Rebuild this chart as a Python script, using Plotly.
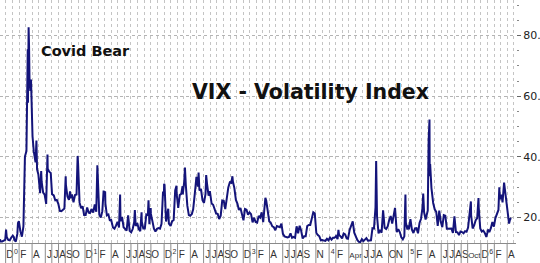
import plotly.graph_objects as go
import pandas as pd

# ---------------- data ----------------
d2019 = ["2019-11-05", "2019-11-08", "2019-11-15", "2019-11-22", "2019-11-29", "2019-12-03", "2019-12-06",
         "2019-12-13", "2019-12-20", "2019-12-27", "2019-12-31"]
v2019 = [12.8, 12.1, 12.1, 12.3, 12.6, 16.0, 13.6, 12.6, 12.5, 13.4, 13.8]

d2020 = ["2020-01-03", "2020-01-08", "2020-01-10", "2020-01-17", "2020-01-24", "2020-01-27", "2020-01-31",
         "2020-02-07", "2020-02-14", "2020-02-21", "2020-02-24", "2020-02-27", "2020-02-28", "2020-03-06",
         "2020-03-09", "2020-03-12", "2020-03-13", "2020-03-16", "2020-03-18", "2020-03-20", "2020-03-24",
         "2020-03-27", "2020-03-31", "2020-04-03", "2020-04-09", "2020-04-17", "2020-04-21", "2020-04-24",
         "2020-04-30", "2020-05-08", "2020-05-13", "2020-05-15", "2020-05-22", "2020-05-29", "2020-06-05",
         "2020-06-11", "2020-06-12", "2020-06-19", "2020-06-26", "2020-07-02", "2020-07-10", "2020-07-17",
         "2020-07-24", "2020-07-31", "2020-08-07", "2020-08-14", "2020-08-21", "2020-08-28", "2020-09-03",
         "2020-09-04", "2020-09-11", "2020-09-18", "2020-09-23", "2020-09-25", "2020-10-02", "2020-10-09",
         "2020-10-16", "2020-10-23", "2020-10-28", "2020-10-30", "2020-11-06", "2020-11-13", "2020-11-20",
         "2020-11-27", "2020-12-04", "2020-12-11", "2020-12-18", "2020-12-24", "2020-12-31"]
v2020 = [14.0, 13.5, 12.6, 12.1, 14.6, 18.2, 18.8, 15.5, 13.7, 17.1, 25.0, 39.2, 40.1, 41.9,
         54.5, 75.5, 57.8, 82.7, 76.5, 66.0, 61.7, 65.5, 53.5, 46.8, 41.7, 38.2, 45.4, 35.9,
         34.2, 28.0, 35.3, 31.9, 28.2, 27.5, 24.5, 40.8, 36.1, 35.1, 34.7, 27.7, 27.3, 25.7,
         25.8, 24.5, 22.2, 22.1, 22.5, 23.0, 33.6, 30.8, 26.9, 25.8, 28.6, 26.4, 27.6, 25.0,
         27.4, 27.6, 40.3, 38.0, 24.9, 23.1, 23.7, 20.8, 20.8, 23.3, 21.6, 21.5, 22.8]

d2021 = ["2021-01-08", "2021-01-15", "2021-01-22", "2021-01-27", "2021-01-29", "2021-02-05", "2021-02-12",
         "2021-02-19", "2021-02-25", "2021-02-26", "2021-03-04", "2021-03-05", "2021-03-12", "2021-03-19",
         "2021-03-26", "2021-03-31", "2021-04-09", "2021-04-16", "2021-04-23", "2021-04-30", "2021-05-07",
         "2021-05-12", "2021-05-14", "2021-05-21", "2021-05-28", "2021-06-04", "2021-06-11", "2021-06-18",
         "2021-06-25", "2021-07-02", "2021-07-09", "2021-07-16", "2021-07-19", "2021-07-23", "2021-07-30",
         "2021-08-06", "2021-08-13", "2021-08-19", "2021-08-20", "2021-08-27", "2021-09-03", "2021-09-10",
         "2021-09-17", "2021-09-20", "2021-09-24", "2021-09-30", "2021-10-01", "2021-10-08", "2021-10-15",
         "2021-10-22", "2021-10-29", "2021-11-05", "2021-11-12", "2021-11-19", "2021-11-26", "2021-11-30",
         "2021-12-01", "2021-12-03", "2021-12-10", "2021-12-17", "2021-12-20", "2021-12-23", "2021-12-31"]
v2021 = [21.6, 24.3, 21.9, 37.2, 33.1, 20.9, 20.0, 22.1, 28.9, 28.0, 28.6, 24.7, 20.7, 21.0,
         18.9, 19.4, 16.7, 16.3, 17.3, 18.6, 16.7, 27.6, 18.8, 20.2, 16.8, 16.4, 15.7, 20.7,
         15.6, 15.1, 16.2, 18.5, 22.5, 17.2, 18.2, 16.2, 15.5, 21.7, 18.6, 16.4, 16.4, 21.0,
         20.8, 25.7, 17.8, 23.1, 21.2, 18.8, 16.3, 15.4, 16.3, 16.5, 16.3, 17.9, 28.6, 27.2,
         31.1, 30.7, 18.7, 21.6, 22.9, 18.0, 17.2]

d2022 = ["2022-01-07", "2022-01-14", "2022-01-21", "2022-01-24", "2022-01-27", "2022-01-28", "2022-02-04",
         "2022-02-11", "2022-02-18", "2022-02-24", "2022-02-25", "2022-03-04", "2022-03-07", "2022-03-11",
         "2022-03-18", "2022-03-25", "2022-03-31", "2022-04-08", "2022-04-14", "2022-04-22", "2022-04-29",
         "2022-05-06", "2022-05-09", "2022-05-13", "2022-05-20", "2022-05-27", "2022-06-03", "2022-06-10",
         "2022-06-13", "2022-06-17", "2022-06-24", "2022-06-30", "2022-07-08", "2022-07-15", "2022-07-22",
         "2022-07-29", "2022-08-05", "2022-08-12", "2022-08-19", "2022-08-26", "2022-09-02", "2022-09-09",
         "2022-09-16", "2022-09-23", "2022-09-30", "2022-10-07", "2022-10-12", "2022-10-14", "2022-10-21",
         "2022-10-28", "2022-11-04", "2022-11-11", "2022-11-18", "2022-11-25", "2022-12-02", "2022-12-09",
         "2022-12-16", "2022-12-23", "2022-12-30"]
v2022 = [18.8, 19.2, 28.9, 29.9, 30.5, 27.7, 23.2, 27.4, 27.8, 30.3, 27.6, 32.0, 36.5, 30.8,
         23.9, 20.8, 20.6, 21.2, 22.7, 28.2, 33.4, 30.2, 34.8, 28.9, 29.4, 25.7, 24.8, 27.8,
         34.0, 31.1, 27.2, 28.7, 24.6, 24.2, 23.0, 21.3, 21.2, 19.5, 20.6, 25.6, 25.5, 22.8,
         26.3, 29.9, 31.6, 31.4, 33.6, 32.0, 29.7, 25.8, 24.6, 22.5, 23.1, 20.5, 19.1, 22.8,
         22.6, 20.9, 21.7]

d2023 = ["2023-01-06", "2023-01-13", "2023-01-20", "2023-01-27", "2023-02-03", "2023-02-10", "2023-02-17",
         "2023-02-24", "2023-03-03", "2023-03-10", "2023-03-13", "2023-03-17", "2023-03-24", "2023-03-31",
         "2023-04-06", "2023-04-14", "2023-04-21", "2023-04-28", "2023-05-05", "2023-05-12", "2023-05-19",
         "2023-05-26", "2023-06-02", "2023-06-09", "2023-06-16", "2023-06-23", "2023-06-30", "2023-07-07",
         "2023-07-14", "2023-07-21", "2023-07-28", "2023-08-04", "2023-08-11", "2023-08-18", "2023-08-25",
         "2023-09-01", "2023-09-08", "2023-09-15", "2023-09-22", "2023-09-29", "2023-10-06", "2023-10-13",
         "2023-10-20", "2023-10-27", "2023-11-03", "2023-11-10", "2023-11-17", "2023-11-24", "2023-12-01",
         "2023-12-08", "2023-12-15", "2023-12-22", "2023-12-29"]
v2023 = [21.1, 18.4, 19.9, 18.5, 18.3, 20.5, 20.0, 21.7, 18.5, 24.8, 26.5, 25.5, 21.7, 18.7,
         18.4, 17.1, 16.8, 15.8, 17.2, 16.9, 16.8, 18.0, 14.6, 13.8, 13.5, 13.4, 13.6, 14.8,
         13.3, 13.6, 13.3, 17.1, 14.8, 17.3, 15.7, 13.1, 13.8, 13.8, 17.2, 17.5, 17.5, 19.3,
         21.7, 21.3, 14.9, 14.2, 13.8, 12.5, 12.6, 12.4, 12.3, 13.0, 12.5]

d2024 = ["2024-01-05", "2024-01-12", "2024-01-19", "2024-01-26", "2024-02-02", "2024-02-09", "2024-02-13",
         "2024-02-16", "2024-02-23", "2024-03-01", "2024-03-08", "2024-03-15", "2024-03-22", "2024-03-28",
         "2024-04-05", "2024-04-12", "2024-04-19", "2024-04-26", "2024-05-03", "2024-05-10", "2024-05-17",
         "2024-05-24", "2024-05-31", "2024-06-07", "2024-06-14", "2024-06-21", "2024-06-28", "2024-07-05",
         "2024-07-12", "2024-07-19", "2024-07-26", "2024-08-02", "2024-08-05", "2024-08-09", "2024-08-16",
         "2024-08-23", "2024-08-30", "2024-09-06", "2024-09-13", "2024-09-20", "2024-09-27", "2024-10-04",
         "2024-10-11", "2024-10-18", "2024-10-25", "2024-10-31", "2024-11-08", "2024-11-15", "2024-11-22",
         "2024-11-29", "2024-12-06", "2024-12-13", "2024-12-18", "2024-12-20", "2024-12-27", "2024-12-31"]
v2024 = [13.4, 12.7, 13.3, 13.3, 13.9, 12.9, 15.9, 14.2, 13.8, 13.1, 14.7, 14.4, 13.1, 13.0,
         16.0, 17.3, 18.7, 15.0, 13.5, 12.6, 12.0, 11.9, 12.9, 12.2, 12.7, 13.2, 12.4, 12.5,
         12.5, 16.5, 16.4, 23.4, 38.6, 20.4, 14.8, 15.9, 15.0, 22.4, 16.6, 16.2, 17.0, 19.2,
         20.5, 18.0, 20.3, 23.2, 15.2, 16.1, 15.2, 13.5, 12.8, 13.8, 27.6, 18.4, 16.0, 17.4]

d2025 = ["2025-01-03", "2025-01-10", "2025-01-17", "2025-01-24", "2025-01-31", "2025-02-07", "2025-02-14",
         "2025-02-21", "2025-02-28", "2025-03-07", "2025-03-10", "2025-03-14", "2025-03-21", "2025-03-28",
         "2025-03-31", "2025-04-04", "2025-04-08", "2025-04-09", "2025-04-11", "2025-04-17", "2025-04-25",
         "2025-05-02", "2025-05-09", "2025-05-16", "2025-05-23", "2025-05-30", "2025-06-06", "2025-06-13",
         "2025-06-20", "2025-06-27", "2025-07-03", "2025-07-11", "2025-07-18", "2025-07-25", "2025-08-01",
         "2025-08-08", "2025-08-15", "2025-08-22", "2025-08-29", "2025-09-05", "2025-09-12", "2025-09-19",
         "2025-09-26", "2025-10-03", "2025-10-10", "2025-10-16", "2025-10-17", "2025-10-24", "2025-10-31",
         "2025-11-07", "2025-11-14", "2025-11-20", "2025-11-21", "2025-11-28", "2025-12-05", "2025-12-12",
         "2025-12-19", "2025-12-26", "2025-12-31"]
v2025 = [16.1, 19.5, 16.0, 14.9, 16.4, 16.5, 14.8, 18.2, 19.6, 23.4, 27.9, 21.8, 19.3, 21.7,
         22.3, 45.3, 52.3, 33.6, 37.6, 29.7, 24.8, 22.7, 21.9, 17.2, 22.3, 18.6, 16.8, 20.8,
         20.6, 16.3, 16.4, 16.4, 16.4, 14.9, 20.4, 15.2, 15.1, 14.2, 15.4, 15.2, 14.8, 15.5,
         15.3, 16.7, 21.7, 25.3, 20.8, 16.4, 17.4, 19.1, 19.8, 26.4, 23.4, 16.4, 15.4, 15.7,
         14.9, 13.6, 15.0]

d2026 = ["2026-01-02", "2026-01-09", "2026-01-16", "2026-01-23", "2026-01-30", "2026-02-06", "2026-02-13",
         "2026-02-20", "2026-02-24", "2026-02-27", "2026-03-06", "2026-03-11", "2026-03-18", "2026-03-24",
         "2026-03-31", "2026-04-07", "2026-04-10", "2026-04-15", "2026-04-20"]
v2026 = [16.0, 15.2, 16.5, 18.5, 17.0, 19.8, 21.0, 22.5, 30.0, 26.0, 27.5, 25.0, 31.5, 28.0,
         25.5, 20.0, 18.0, 19.5, 19.8]

# month labels on the x axis
label_dates = ["2019-12-01", "2020-01-01", "2020-02-01", "2020-04-01", "2020-06-01", "2020-07-01", "2020-08-01",
               "2020-09-01", "2020-10-01", "2020-12-01", "2021-01-01", "2021-02-01", "2021-04-01", "2021-06-01",
               "2021-07-01", "2021-08-01", "2021-09-01", "2021-10-01", "2021-12-01", "2022-01-01", "2022-02-01",
               "2022-04-01", "2022-06-01", "2022-07-01", "2022-08-01", "2022-09-01", "2022-10-01", "2022-12-01",
               "2023-01-01", "2023-02-01", "2023-04-01", "2023-06-01", "2023-07-01", "2023-08-01", "2023-09-01",
               "2023-11-01", "2024-01-01", "2024-02-01", "2024-04-01", "2024-06-01", "2024-07-01", "2024-08-01",
               "2024-10-01", "2024-11-01", "2025-01-01", "2025-02-01", "2025-04-01", "2025-06-01", "2025-07-01",
               "2025-08-01", "2025-09-01", "2025-10-01", "2025-12-01", "2026-01-01", "2026-02-01", "2026-04-01"]
label_text = ["D", "0", "F", "A", "J", "J", "A", "S", "O", "D", "1", "F", "A", "J",
              "J", "A", "S", "O", "D", "2", "F", "A", "J", "J", "A", "S", "O", "D",
              "3", "F", "A", "J", "J", "A", "S", "N", "4", "F", "Apr", "J", "J", "A",
              "O", "N", "5", "F", "A", "J", "J", "A", "S", "Oct", "D", "6", "F", "A"]

y_ticks = [20, 40, 60, 80]
y_tick_text = ["20.", "40.", "60.", "80."]

# ---------------- figure ----------------
dates = d2019 + d2020 + d2021 + d2022 + d2023 + d2024 + d2025 + d2026
vix = v2019 + v2020 + v2021 + v2022 + v2023 + v2024 + v2025 + v2026

fig = go.Figure()
fig.add_trace(go.Scatter(x=pd.to_datetime(dates), y=vix, mode="lines",
                         line=dict(color="#14147a", width=2), hoverinfo="skip"))

# label tick positions: just right of the month separator
tick_pos = []
tick_txt = []
for d, t in zip(label_dates, label_text):
    if len(t) > 1:
        off = 31
        txt = '<span style="font-size:8px">' + t + "</span>"
    elif t.isdigit():
        off = 17
        txt = "<sup>" + t + "</sup>"
    else:
        off = 19
        txt = t
    tick_pos.append(pd.Timestamp(d) + pd.Timedelta(days=off))
    tick_txt.append(txt)

shapes = []
for d in label_dates:
    shapes.append(dict(type="line", xref="x", yref="paper", x0=d, x1=d, y0=0, y1=-20 / 243,
                       line=dict(color="#8c8c8c", width=1)))

fig.update_layout(
    width=540, height=263,
    margin=dict(l=0, r=24, t=0, b=20),
    paper_bgcolor="white", plot_bgcolor="white",
    showlegend=False,
    shapes=shapes,
    xaxis=dict(
        type="date",
        range=["2019-11-05", "2026-05-12"],
        tickmode="array", tickvals=tick_pos, ticktext=tick_txt,
        tickangle=0, ticklabelstandoff=2,
        ticks="", showgrid=False, zeroline=False,
        showline=True, linecolor="#8a8a8a", linewidth=1,
        tickfont=dict(family="Liberation Sans", size=10, color="#333333"),
        minor=dict(tickmode="linear", tick0="2019-12-01", dtick="M1", showgrid=True,
                   gridcolor="#c4c4c4", griddash="dot", gridwidth=1, ticks=""),
    ),
    yaxis=dict(
        side="right",
        range=[11.6, 91.7],
        tickmode="array", tickvals=y_ticks, ticktext=y_tick_text,
        ticks="outside", ticklen=4, tickcolor="#666666",
        showgrid=True, gridcolor="#b4b4b4", griddash="dot", gridwidth=1,
        zeroline=False, showline=False,
        tickfont=dict(family="DejaVu Sans", size=11, color="#222222"),
        minor=dict(tickmode="linear", tick0=0, dtick=5, ticks="outside", ticklen=2,
                   tickcolor="#888888", showgrid=False),
    ),
    annotations=[
        dict(text="Covid Bear", xref="paper", yref="paper", x=39 / 516, y=1 - 50.5 / 243,
             xanchor="left", yanchor="middle", showarrow=False,
             font=dict(family="DejaVu Sans", size=14.5, color="#111111", weight="bold")),
        dict(text="VIX - Volatility Index", xref="paper", yref="paper", x=190 / 516, y=1 - 91.5 / 243,
             xanchor="left", yanchor="middle", showarrow=False,
             font=dict(family="DejaVu Sans", size=20.5, color="#111111", weight="bold")),
    ],
)

fig.write_html("out.html")
